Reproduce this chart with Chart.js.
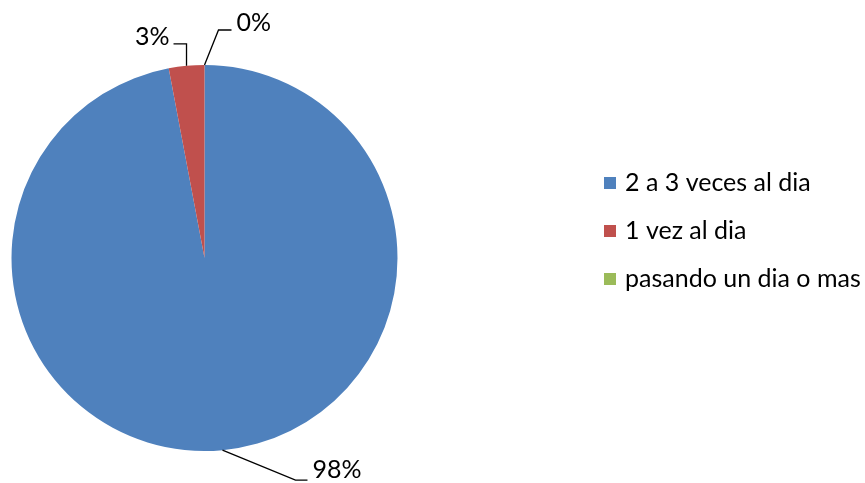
<!DOCTYPE html>
<html>
<head>
<meta charset="utf-8">
<script src="https://cdn.jsdelivr.net/npm/chart.js@4/dist/chart.umd.min.js"></script>
<style>
  html, body { margin: 0; padding: 0; background: #fff; }
  #wrap { width: 865px; height: 483px; position: relative; }
</style>
</head>
<body>
<div id="wrap"><canvas id="pie-chart"></canvas></div>
<script>
// frecuencia
const categories = ['2 a 3 veces al dia', '1 vez al dia', 'pasando un dia o mas'];
const percentages = [98, 3, 0];
const sliceColors = ['#4F81BD', '#C0504D', '#9BBB59'];

const FONT = '25px Lato, Carlito, Calibri, sans-serif';

// leader lines: elbow offset from the slice edge, then short horizontal tail
const leaders = [
  { dx: 73, dy: 30, tail: 12, side: 'right', textDy: -10 },
  { dx: 0, dy: -22, tail: -13, side: 'left', textDy: -7 },
  { dx: 14, dy: -35, tail: 13, side: 'right', textDy: -7 }
];

const pieLabels = {
  id: 'pieLabels',
  afterDraw(chart) {
    const ctx = chart.ctx;
    const meta = chart.getDatasetMeta(0);
    ctx.save();
    ctx.font = FONT;
    ctx.fillStyle = '#000';
    ctx.strokeStyle = '#000';
    ctx.lineWidth = 1.3;
    meta.data.forEach((arc, i) => {
      const p = arc.getProps(['x', 'y', 'startAngle', 'endAngle', 'outerRadius'], true);
      const mid = (p.startAngle + p.endAngle) / 2;
      const ax = p.x + p.outerRadius * Math.cos(mid);
      const ay = p.y + p.outerRadius * Math.sin(mid);
      const l = leaders[i];
      const ex = ax + l.dx, ey = ay + l.dy;
      const tx = ex + l.tail;
      ctx.beginPath();
      ctx.moveTo(ax, ay);
      ctx.lineTo(ex, ey);
      ctx.lineTo(tx, ey);
      ctx.stroke();
      ctx.textBaseline = 'middle';
      ctx.textAlign = l.side === 'right' ? 'left' : 'right';
      ctx.fillText(percentages[i] + '%', tx + (l.side === 'right' ? 5 : -4), ey + l.textDy);
    });

    // legend
    const lx = 604, ly = 183, gap = 48;
    ctx.textAlign = 'left';
    ctx.textBaseline = 'middle';
    categories.forEach((c, i) => {
      ctx.fillStyle = sliceColors[i];
      ctx.fillRect(lx, ly + i * gap - 6, 12, 12);
      ctx.fillStyle = '#000';
      ctx.fillText(c, lx + 21, ly + i * gap);
    });
    ctx.restore();
  }
};

new Chart(document.getElementById('pie-chart'), {
  type: 'pie',
  data: {
    labels: categories,
    datasets: [{
      data: percentages,
      backgroundColor: sliceColors,
      borderWidth: 0
    }]
  },
  options: {
    responsive: true,
    maintainAspectRatio: false,
    animation: false,
    layout: {
      padding: { left: 11.5, right: 467.5, top: 65, bottom: 32 }
    },
    plugins: {
      legend: { display: false },
      tooltip: { enabled: false }
    }
  },
  plugins: [pieLabels]
});
</script>
</body>
</html>
